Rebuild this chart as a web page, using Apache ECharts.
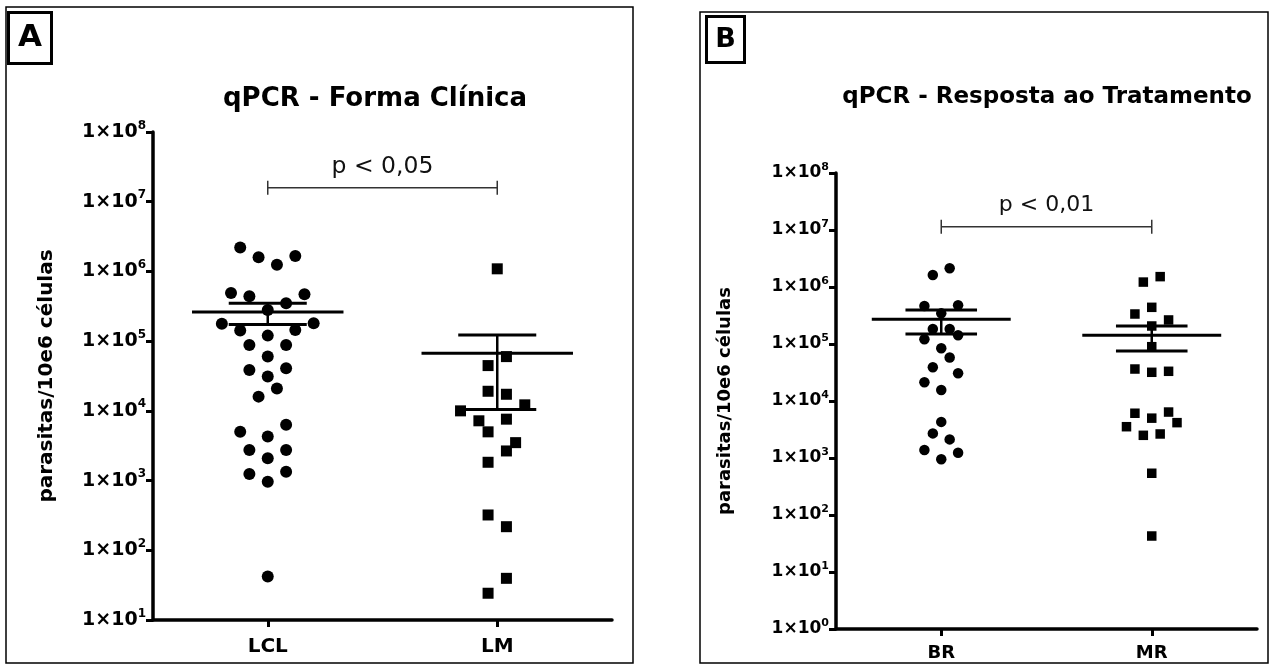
<!DOCTYPE html>
<html><head><meta charset="utf-8">
<script src="https://cdn.jsdelivr.net/npm/echarts@6/dist/echarts.min.js"></script>
<style>html,body{margin:0;padding:0;background:#fff}#c{width:1271px;height:666px}</style>
</head><body><div id="c"></div>
<script>
// ---------- data ----------
const catsA = ['LCL', 'LM'];
const catsB = ['BR', 'MR'];
const titleA = 'qPCR - Forma Clínica';
const titleB = 'qPCR - Resposta ao Tratamento';
const yAxisName = 'parasitas/10e6 células';

const lclValues = [2.2e6, 1.6e6, 1.25e6, 1.67e6, 4.9e5, 4.4e5, 4.7e5, 3.5e5, 2.8e5, 1.77e5, 1.8e5, 1.42e5, 1.45e5, 1.2e5, 8.8e4, 8.8e4, 6.0e4, 3.86e4, 4.08e4, 3.1e4, 2.1e4, 1.6e4, 5.0e3, 6.3e3, 4.3e3, 2.75e3, 2.75e3, 2.09e3, 1.24e3, 1.34e3, 964, 42];
const lclJitter = [-3, -1, 1, 3, -4, -2, 4, 2, 0, -5, 5, -3, 3, 0, -2, 2, 0, -2, 2, 0, 1, -1, -3, 2, 0, -2, 2, 0, -2, 2, 0, 0];
const lmValues = [1.09e6, 6.0e4, 4.46e4, 1.91e4, 1.73e4, 1.22e4, 1.0e4, 7.2e3, 7.6e3, 5.0e3, 3.5e3, 2.66e3, 1.83e3, 321, 218, 39.6, 24.2];
const lmJitter = [0, 1, -1, -1, 1, 3, -4, -2, 1, -1, 2, 1, -1, -1, 1, 1, -1];

const brValues = [1.62e6, 2.13e6, 4.64e5, 4.77e5, 3.45e5, 1.83e5, 1.83e5, 1.21e5, 1.42e5, 8.4e4, 5.8e4, 3.9e4, 3.06e4, 2.13e4, 1.56e4, 4.3e3, 2.7e3, 2.12e3, 1.38e3, 1.24e3, 948];
const brJitter = [-1, 1, -2, 2, 0, -1, 1, -2, 2, 0, 1, -1, 2, -2, 0, 0, -1, 1, -2, 2, 0];
const mrValues = [1.22e6, 1.52e6, 3.36e5, 4.4e5, 2.64e5, 2.07e5, 8.97e4, 3.64e4, 3.19e4, 3.32e4, 6.1e3, 6.4e3, 5.0e3, 3.54e3, 4.17e3, 2.5e3, 2.64e3, 540, 42.8];
const mrJitter = [-1, 1, -2, 0, 2, 0, 0, -2, 0, 2, -2, 2, 0, -3, 3, -1, 1, 0, 0];

const meanA = [2.62e5, 6.7e4];
const semLowA = [1.73e5, 1.05e4];
const semHighA = [3.5e5, 1.23e5];
const meanB = [2.71e5, 1.42e5];
const semLowB = [1.5e5, 7.5e4];
const semHighB = [3.95e5, 2.07e5];

const bracketYA = 1.58e7, pTextA = 'p < 0,05';
const bracketYB = 1.14e7, pTextB = 'p < 0,01';

const yMinA = 10, yMaxA = 1e8;
const yMinB = 1, yMaxB = 1e8;

// ---------- helpers ----------
const JSTEP = 0.04, MEAN_HALF = 0.33, CAP_HALF = 0.17;
const FONT = '"DejaVu Sans", "Liberation Sans", Arial, sans-serif';

function pts(values, jitter, cat) {
  return values.map((v, i) => [cat + jitter[i] * JSTEP, v]);
}
function meanData(mean, lo, hi) {
  return mean.map((m, i) => [i + 1, m, lo[i], hi[i]]);
}
function meanSemRender(params, api) {
  const x = api.value(0), m = api.value(1), lo = api.value(2), hi = api.value(3);
  const pm = api.coord([x, m]), plo = api.coord([x, lo]), phi = api.coord([x, hi]);
  const l = api.coord([x - MEAN_HALF, m])[0], r = api.coord([x + MEAN_HALF, m])[0];
  const cl = api.coord([x - CAP_HALF, m])[0], cr = api.coord([x + CAP_HALF, m])[0];
  const st = { stroke: '#000', lineWidth: 3 };
  return { type: 'group', children: [
    { type: 'line', shape: { x1: l, y1: pm[1], x2: r, y2: pm[1] }, style: st },
    { type: 'line', shape: { x1: pm[0], y1: phi[1], x2: pm[0], y2: plo[1] }, style: { stroke: '#000', lineWidth: 2.5 } },
    { type: 'line', shape: { x1: cl, y1: phi[1], x2: cr, y2: phi[1] }, style: st },
    { type: 'line', shape: { x1: cl, y1: plo[1], x2: cr, y2: plo[1] }, style: st }
  ] };
}
function bracketRender(fs, label) {
  return function (params, api) {
    const p1 = api.coord([api.value(0), api.value(2)]);
    const p2 = api.coord([api.value(1), api.value(2)]);
    const st = { stroke: '#333', lineWidth: 1.5 };
    return { type: 'group', children: [
      { type: 'line', shape: { x1: p1[0], y1: p1[1], x2: p2[0], y2: p2[1] }, style: st },
      { type: 'line', shape: { x1: p1[0], y1: p1[1] - 7, x2: p1[0], y2: p1[1] + 7 }, style: st },
      { type: 'line', shape: { x1: p2[0], y1: p2[1] - 7, x2: p2[0], y2: p2[1] + 7 }, style: st },
      { type: 'text', style: { x: (p1[0] + p2[0]) / 2, y: p1[1] - 21, text: label, fill: '#111',
        font: 'normal ' + fs + 'px ' + FONT, align: 'center', verticalAlign: 'middle' } }
    ] };
  };
}
function logLabel(fs, sfs) {
  return {
    formatter: v => '{b|1×10}{s|' + Math.round(Math.log10(v)) + '}',
    rich: {
      b: { fontFamily: FONT, fontWeight: 'bold', fontSize: fs, color: '#000', lineHeight: fs + 6 },
      s: { fontFamily: FONT, fontWeight: 'bold', fontSize: sfs, color: '#000', verticalAlign: 'top', lineHeight: sfs }
    },
    margin: 7
  };
}
function catAxis(grid, data, fs, margin) {
  return {
    type: 'category', gridIndex: grid, data: data, boundaryGap: true,
    axisLine: { show: true, lineStyle: { color: '#000', width: 3.5 } },
    axisTick: { show: true, alignWithLabel: true, length: 7, lineStyle: { color: '#000', width: 3 } },
    axisLabel: { fontFamily: FONT, fontWeight: 'bold', fontSize: fs, color: '#000', margin: margin },
    splitLine: { show: false }, z: 3
  };
}
function valAxis(grid) {
  return { type: 'value', gridIndex: grid, min: 0.5, max: 2.5, show: false };
}
function logAxis(grid, min, max, split, fs, sfs) {
  return {
    type: 'log', logBase: 10, gridIndex: grid, min: min, max: max, splitNumber: split,
    axisLine: { show: true, lineStyle: { color: '#000', width: 3.5 } },
    axisTick: { show: true, length: 7, lineStyle: { color: '#000', width: 3 } },
    minorTick: { show: false }, splitLine: { show: false },
    axisLabel: logLabel(fs, sfs), z: 3
  };
}
const dot = { color: '#000', opacity: 1 };

const option = {
  animation: false,
  backgroundColor: '#fff',
  grid: [
    { left: 153, width: 459, top: 132, height: 488 },
    { left: 836, width: 421, top: 173, height: 456 }
  ],
  xAxis: [
    catAxis(0, catsA, 20, 17),
    valAxis(0),
    catAxis(1, catsB, 18, 15),
    valAxis(1)
  ],
  yAxis: [
    logAxis(0, yMinA, yMaxA, 7, 19, 12),
    logAxis(1, yMinB, yMaxB, 8, 17, 11)
  ],
  series: [
    { type: 'scatter', xAxisIndex: 1, yAxisIndex: 0, symbol: 'circle', symbolSize: 12,
      itemStyle: dot, data: pts(lclValues, lclJitter, 1), z: 2 },
    { type: 'scatter', xAxisIndex: 1, yAxisIndex: 0, symbol: 'rect', symbolSize: 11,
      itemStyle: dot, data: pts(lmValues, lmJitter, 2), z: 2 },
    { type: 'scatter', xAxisIndex: 3, yAxisIndex: 1, symbol: 'circle', symbolSize: 10.5,
      itemStyle: dot, data: pts(brValues, brJitter, 1), z: 2 },
    { type: 'scatter', xAxisIndex: 3, yAxisIndex: 1, symbol: 'rect', symbolSize: 9.5,
      itemStyle: dot, data: pts(mrValues, mrJitter, 2), z: 2 },
    { type: 'custom', xAxisIndex: 1, yAxisIndex: 0, renderItem: meanSemRender,
      data: meanData(meanA, semLowA, semHighA), z: 4, clip: false },
    { type: 'custom', xAxisIndex: 3, yAxisIndex: 1, renderItem: meanSemRender,
      data: meanData(meanB, semLowB, semHighB), z: 4, clip: false },
    { type: 'custom', xAxisIndex: 1, yAxisIndex: 0, renderItem: bracketRender(23.5, pTextA),
      data: [[1, 2, bracketYA]], z: 4, clip: false },
    { type: 'custom', xAxisIndex: 3, yAxisIndex: 1, renderItem: bracketRender(22, pTextB),
      data: [[1, 2, bracketYB]], z: 4, clip: false }
  ],
  graphic: [
    { type: 'rect', shape: { x: 6, y: 7, width: 627, height: 656 }, style: { fill: 'none', stroke: '#000', lineWidth: 1.5 }, silent: true },
    { type: 'rect', shape: { x: 700, y: 12, width: 568, height: 651 }, style: { fill: 'none', stroke: '#000', lineWidth: 1.5 }, silent: true },
    { type: 'rect', shape: { x: 8.5, y: 12.5, width: 43, height: 51 }, style: { fill: 'none', stroke: '#000', lineWidth: 3 }, silent: true },
    { type: 'rect', shape: { x: 706.5, y: 16.5, width: 38, height: 46 }, style: { fill: 'none', stroke: '#000', lineWidth: 3 }, silent: true },
    { type: 'text', x: 30, y: 38, style: { text: 'A', font: 'bold 31px ' + FONT, fill: '#000', align: 'center', verticalAlign: 'middle' } },
    { type: 'text', x: 725.5, y: 40, style: { text: 'B', font: 'bold 27px ' + FONT, fill: '#000', align: 'center', verticalAlign: 'middle' } },
    { type: 'text', x: 375, y: 99, style: { text: titleA, font: 'bold 26px ' + FONT, fill: '#000', align: 'center', verticalAlign: 'middle' } },
    { type: 'text', x: 1047, y: 97, style: { text: titleB, font: 'bold 23px ' + FONT, fill: '#000', align: 'center', verticalAlign: 'middle' } },
    { type: 'text', x: 47, y: 376, rotation: Math.PI / 2, style: { text: yAxisName, font: 'bold 20px ' + FONT, fill: '#000', align: 'center', verticalAlign: 'middle' } },
    { type: 'text', x: 725, y: 401, rotation: Math.PI / 2, style: { text: yAxisName, font: 'bold 18px ' + FONT, fill: '#000', align: 'center', verticalAlign: 'middle' } }
  ]
};
const chart = echarts.init(document.getElementById('c'), null, { renderer: 'canvas' });
chart.setOption(option);
</script>
</body></html>
